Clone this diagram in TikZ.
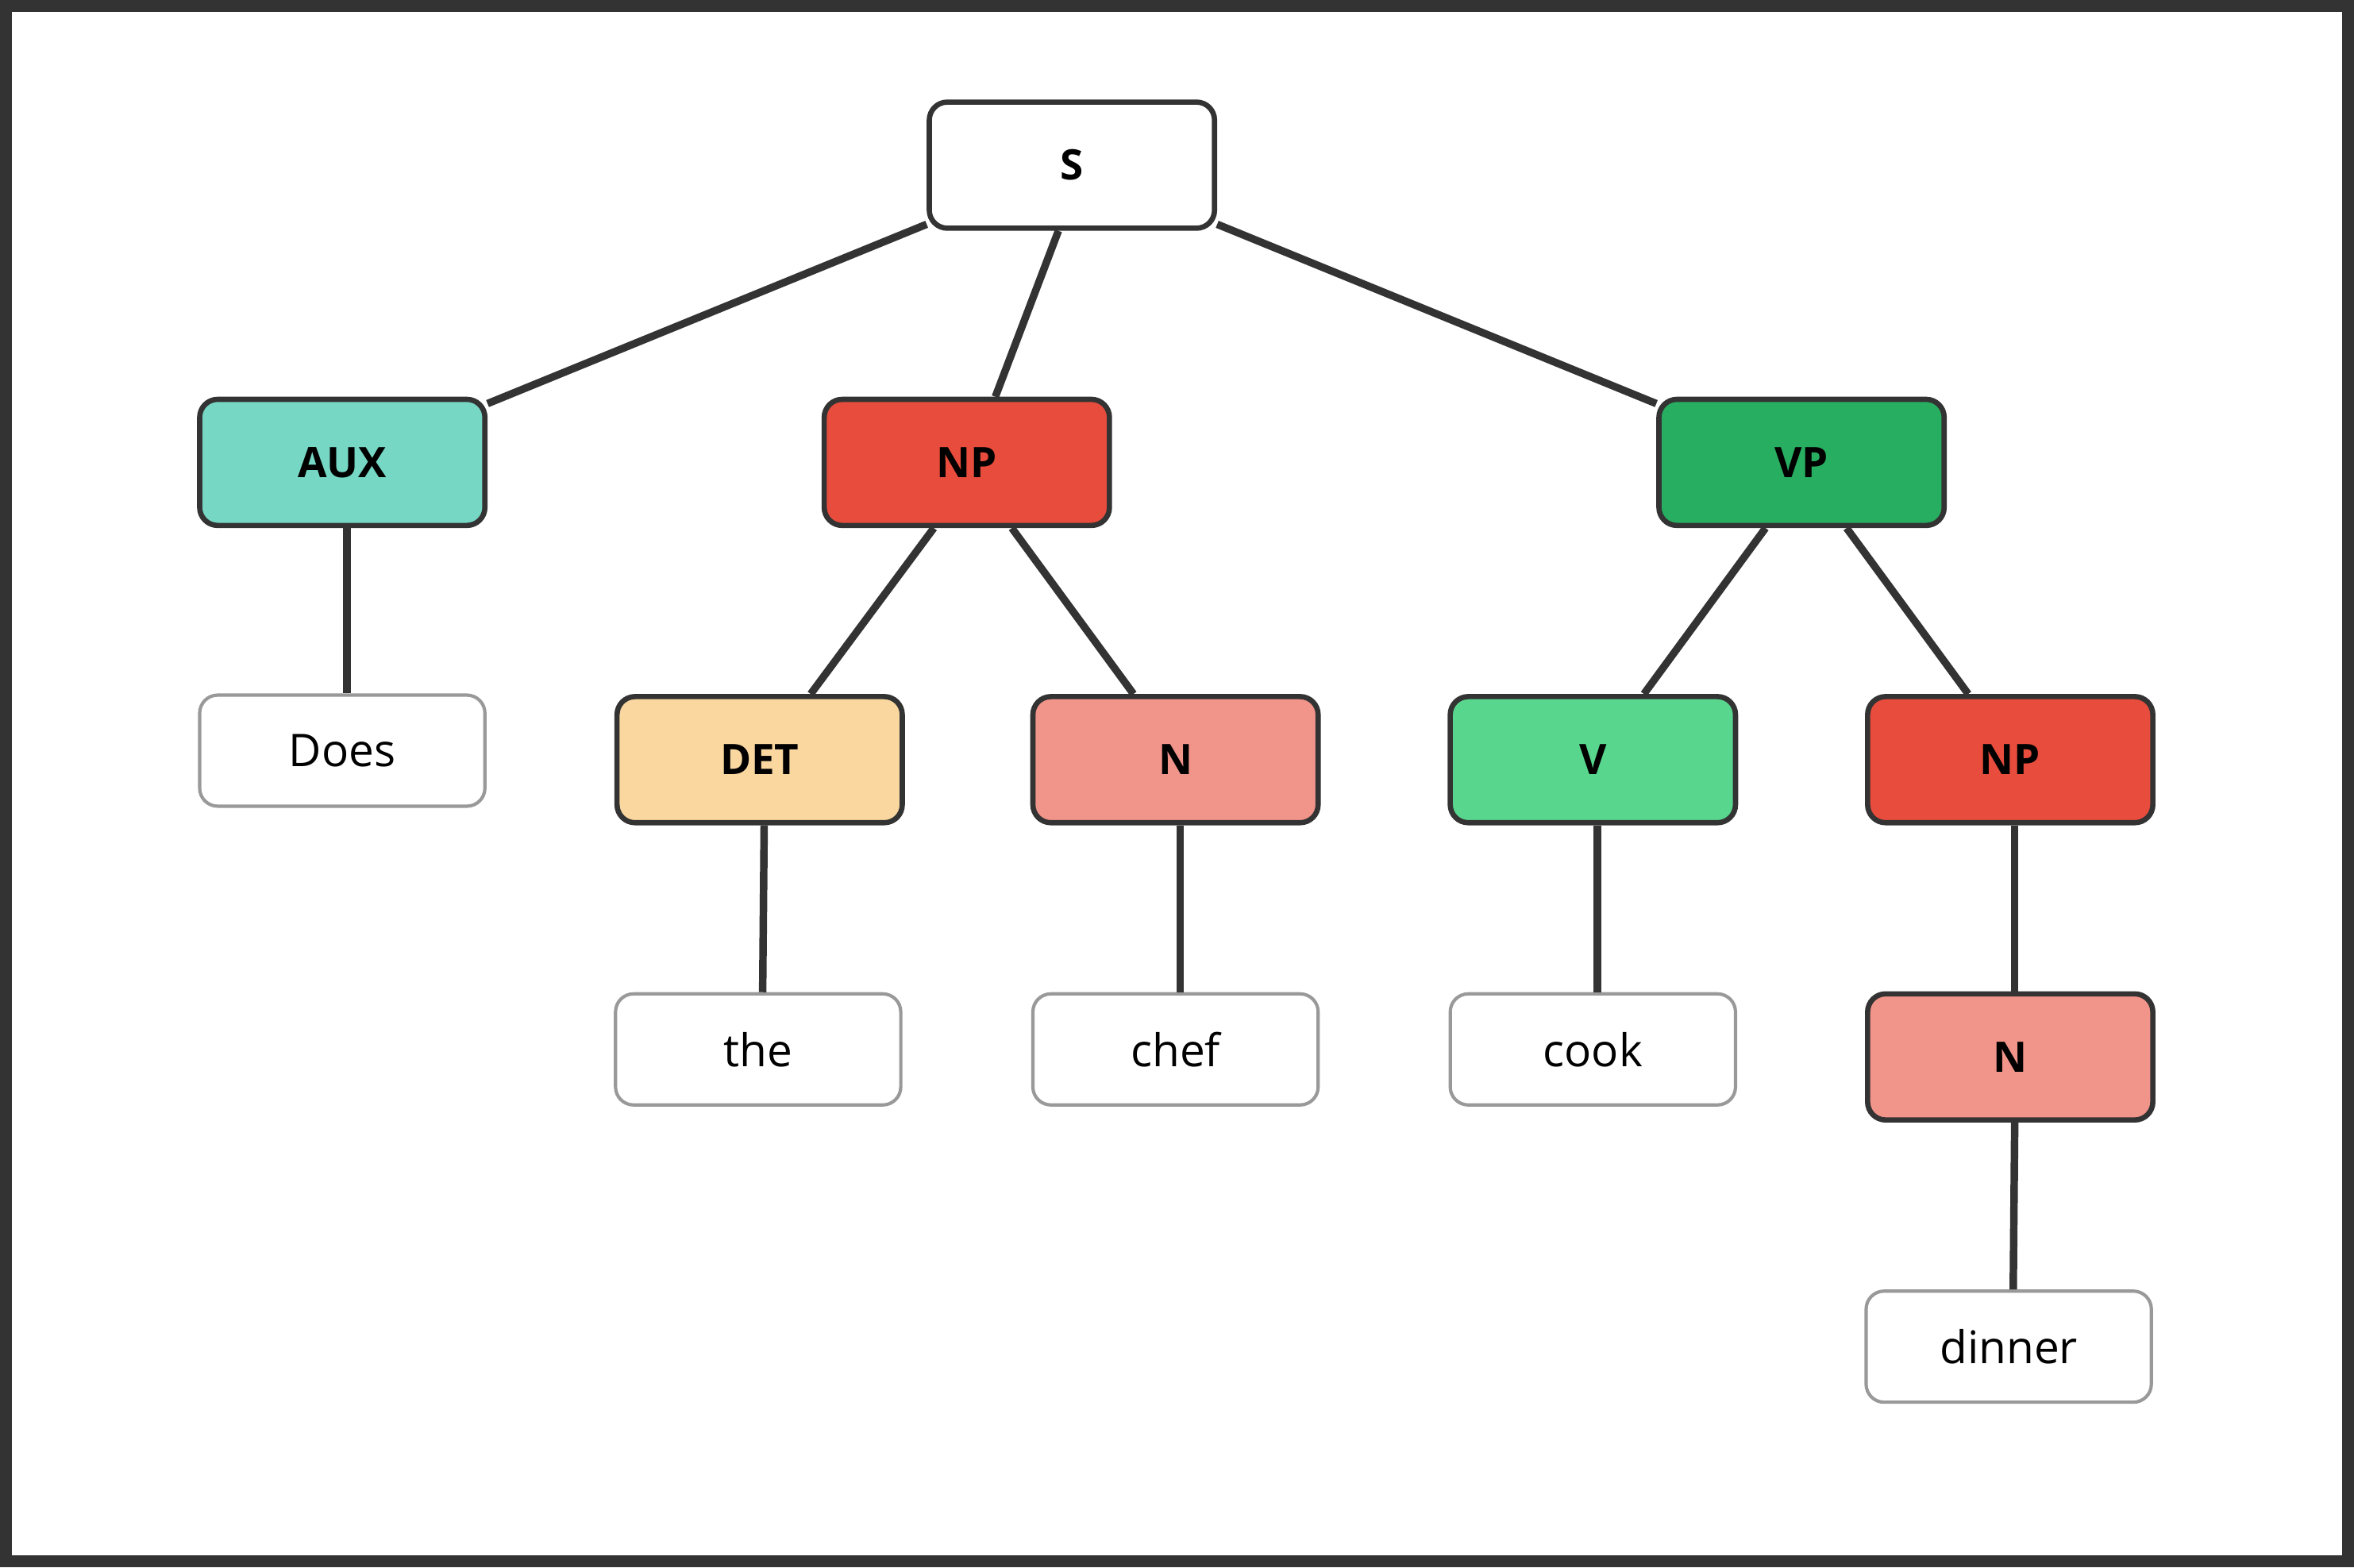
\documentclass[tikz,border=0pt]{standalone}
\usepackage{fontspec}
\setmainfont{Open Sans}
\begin{document}
\begin{tikzpicture}[x=1pt,y=-1pt,
  cat/.style={draw=black!80,line width=3.5pt,rounded corners=12pt,minimum width=190pt,minimum height=84pt,font=\fontsize{28}{30}\selectfont\bfseries,inner sep=0pt},
  word/.style={draw=black!40,line width=2.2pt,rounded corners=12pt,fill=white,minimum width=190pt,minimum height=74pt,font=\fontsize{30}{32}\selectfont,inner sep=0pt},
  edge/.style={draw=black!80,line width=5pt}]
\definecolor{aux}{HTML}{76D7C4}\definecolor{np}{HTML}{E74C3C}\definecolor{vp}{HTML}{27AE60}
\definecolor{det}{HTML}{F9D79F}\definecolor{nn}{HTML}{F1948A}\definecolor{vv}{HTML}{58D68D}
\draw[black!80,line width=8pt,fill=white] (4,4) rectangle (1564,1040);
\useasboundingbox (0,0) rectangle (1568,1044);
\node[cat,fill=white] (S) at (714,110) {S};
\node[cat,fill=aux] (AUX) at (228,308) {AUX};
\node[cat,fill=np] (NP) at (644,308) {NP};
\node[cat,fill=vp] (VP) at (1200,308) {VP};
\node[word] (does) at (228,500) {Does};
\node[cat,fill=det] (DET) at (506,506) {DET};
\node[cat,fill=nn] (N) at (783,506) {N};
\node[cat,fill=vv] (V) at (1061,506) {V};
\node[cat,fill=np] (NP2) at (1339,506) {NP};
\node[word] (the) at (505,699) {the};
\node[word] (chef) at (783,699) {chef};
\node[word] (cook) at (1061,699) {cook};
\node[cat,fill=nn] (N2) at (1339,704) {N};
\node[word] (dinner) at (1338,897) {dinner};
\draw[edge] (S) -- (AUX);
\draw[edge] ([xshift=-9pt]S.south) -- ([xshift=19pt]NP.north);
\draw[edge] (S) -- (VP);
\draw[edge] ([xshift=3pt]AUX.south) -- ([xshift=3pt]does.north);
\draw[edge] ([xshift=-22pt]NP.south) -- ([xshift=34pt]DET.north);
\draw[edge] ([xshift=30pt]NP.south) -- ([xshift=-28pt]N.north);
\draw[edge] ([xshift=-24pt]VP.south) -- ([xshift=34pt]V.north);
\draw[edge] ([xshift=30pt]VP.south) -- ([xshift=-28pt]NP2.north);
\draw[edge] ([xshift=3pt]DET.south) -- ([xshift=3pt]the.north);
\draw[edge] ([xshift=3pt]N.south) -- ([xshift=3pt]chef.north);
\draw[edge] ([xshift=3pt]V.south) -- ([xshift=3pt]cook.north);
\draw[edge] ([xshift=3pt]NP2.south) -- ([xshift=3pt]N2.north);
\draw[edge] ([xshift=3pt]N2.south) -- ([xshift=3pt]dinner.north);
\end{tikzpicture}
\end{document}
